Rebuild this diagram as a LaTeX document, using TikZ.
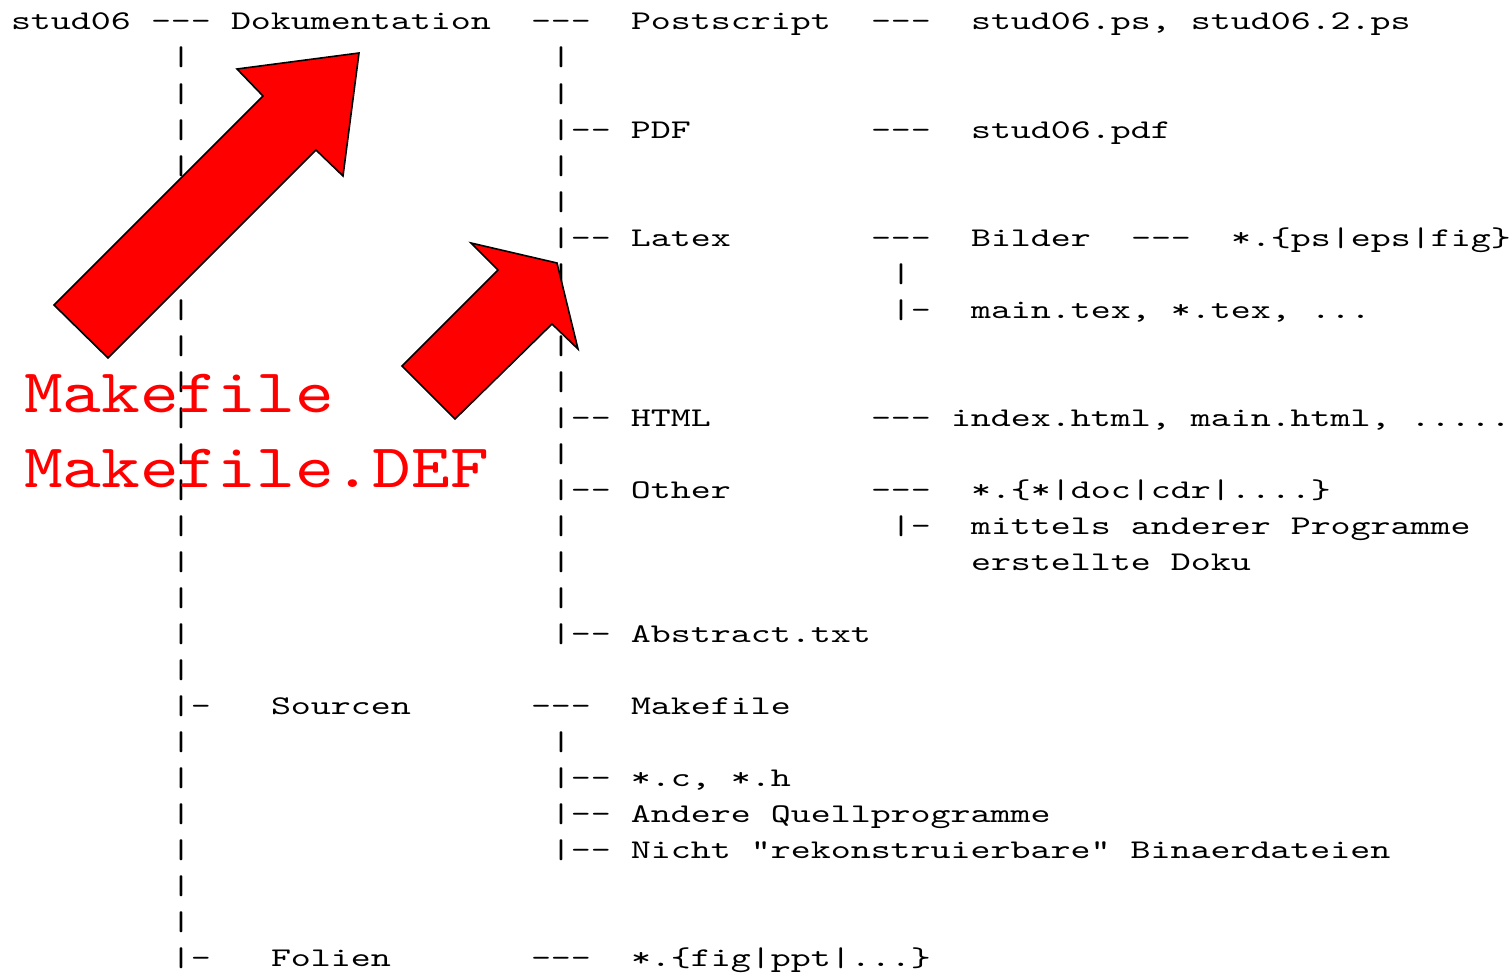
\documentclass[tikz,border=0pt]{standalone}
\usepackage{fontspec}
\newfontfamily\treefont[FakeStretch=1.41,Ligatures=TeXOff]{lmmono10-regular.otf}
\newfontfamily\redfont[FakeStretch=1.19,Ligatures=TeXOff]{lmmono10-regular.otf}
\begin{document}
\begin{tikzpicture}[x=1pt,y=-1pt,
  txt/.style={anchor=base west, inner sep=0pt, outer sep=0pt, font=\treefont\fontsize{27}{32}\selectfont, text=black},
  redtxt/.style={anchor=base west, inner sep=0pt, outer sep=0pt, font=\redfont\fontsize{62}{74}\selectfont, text=red},
  blockarrow/.style={fill=red, draw=black, line width=1.6pt, line join=miter}]
\useasboundingbox (0,0) rectangle (1512,974);
\newcommand\treeseg[3]{\node[txt] (r#1c#2) at ({11+20*#2},{30+36*#1}) {#3};}
% row 0
\treeseg{0}{0}{stud06}\treeseg{0}{7}{---}\treeseg{0}{11}{Dokumentation}
\treeseg{0}{26}{---}\treeseg{0}{31}{Postscript}\treeseg{0}{43}{---}
\treeseg{0}{48}{stud06.ps, stud06.2.ps}
% rows 1-2
\treeseg{1}{8}{|}\treeseg{1}{27}{|}
\treeseg{2}{8}{|}\treeseg{2}{27}{|}
% row 3
\treeseg{3}{8}{|}\treeseg{3}{27}{|-- PDF}\treeseg{3}{43}{---}\treeseg{3}{48}{stud06.pdf}
\treeseg{4}{8}{|}\treeseg{4}{27}{|}
\treeseg{5}{8}{|}\treeseg{5}{27}{|}
% row 6
\treeseg{6}{8}{|}\treeseg{6}{27}{|-- Latex}\treeseg{6}{43}{---}\treeseg{6}{48}{Bilder}
\treeseg{6}{56}{---}\treeseg{6}{61}{*.\{ps|eps|fig\}}
\treeseg{7}{8}{|}\treeseg{7}{27}{|}\treeseg{7}{44}{|}
\treeseg{8}{8}{|}\treeseg{8}{27}{|}\treeseg{8}{44}{|-}\treeseg{8}{48}{main.tex, *.tex, ...}
\treeseg{9}{8}{|}\treeseg{9}{27}{|}
\treeseg{10}{8}{|}\treeseg{10}{27}{|}
% row 11
\treeseg{11}{8}{|}\treeseg{11}{27}{|-- HTML}\treeseg{11}{43}{---}
\treeseg{11}{47}{index.html, main.html, .....}
\treeseg{12}{8}{|}\treeseg{12}{27}{|}
% row 13
\treeseg{13}{8}{|}\treeseg{13}{27}{|-- Other}\treeseg{13}{43}{---}
\treeseg{13}{48}{*.\{*|doc|cdr|....\}}
\treeseg{14}{8}{|}\treeseg{14}{27}{|}\treeseg{14}{44}{|-}\treeseg{14}{48}{mittels anderer Programme}
\treeseg{15}{8}{|}\treeseg{15}{27}{|}\treeseg{15}{48}{erstellte Doku}
\treeseg{16}{8}{|}\treeseg{16}{27}{|}
\treeseg{17}{8}{|}\treeseg{17}{27}{|-- Abstract.txt}
\treeseg{18}{8}{|}
% row 19
\treeseg{19}{8}{|-}\treeseg{19}{13}{Sourcen}\treeseg{19}{26}{---}\treeseg{19}{31}{Makefile}
\treeseg{20}{8}{|}\treeseg{20}{27}{|}
\treeseg{21}{8}{|}\treeseg{21}{27}{|-- *.c, *.h}
\treeseg{22}{8}{|}\treeseg{22}{27}{|-- Andere Quellprogramme}
\treeseg{23}{8}{|}\treeseg{23}{27}{|-- Nicht "rekonstruierbare" Binaerdateien}
\treeseg{24}{8}{|}
\treeseg{25}{8}{|}
% row 26
\treeseg{26}{8}{|-}\treeseg{26}{13}{Folien}\treeseg{26}{26}{---}\treeseg{26}{31}{*.\{fig|ppt|...\}}
% red arrows
\draw[blockarrow] (54,305) -- (263,96) -- (237,69) -- (359,53) -- (343,176) -- (316,150) -- (108,358) -- cycle;
\draw[blockarrow] (402,366) -- (498,270) -- (471,243) -- (557,263) -- (578,349) -- (552,324) -- (455,419) -- cycle;
% red labels
\node[redtxt] (mk1) at (24,412) {Makefile};
\node[redtxt] (mk2) at (24,487) {Makefile.DEF};
\end{tikzpicture}
\end{document}
